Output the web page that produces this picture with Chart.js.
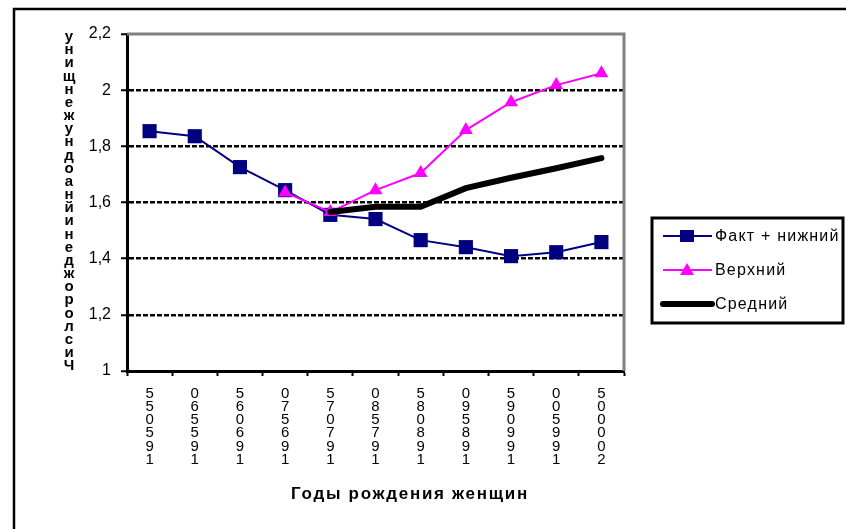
<!DOCTYPE html>
<html><head><meta charset="utf-8">
<script src="https://cdn.jsdelivr.net/npm/chart.js@4/dist/chart.umd.min.js"></script>
<style>html,body{margin:0;padding:0;background:#fff;}canvas{display:block;}</style>
</head><body>
<canvas id="c" width="846" height="529"></canvas>
<script>
const periods = ['1950-55','1955-60','1960-65','1965-70','1970-75','1975-80','1980-85','1985-90','1990-95','1995-00','2000-05'];
const factLower = [1.854,1.836,1.726,1.644,1.556,1.541,1.466,1.441,1.409,1.423,1.459];
const upperVar = [null,null,null,1.636,1.566,1.644,1.705,1.858,1.957,2.018,2.060];
const middleVar = [null,null,null,null,1.566,1.585,1.585,1.651,1.688,1.722,1.758];
const seriesNames = ['Факт + нижний','Верхний','Средний'];
const yTitle = 'Число рождений на одну женщину';
const xTitle = 'Годы рождения женщин';
const FONT = '"Liberation Sans", Arial, sans-serif';

const decor = {
  id:'decor',
  beforeDraw(chart){
    const c = chart.ctx;
    c.save();
    c.fillStyle='#fff'; c.fillRect(0,0,chart.width,chart.height);
    c.strokeStyle='#000'; c.lineWidth=2.5;
    c.beginPath(); c.moveTo(14,chart.height+5); c.lineTo(14,9); c.lineTo(chart.width+5,9); c.stroke();
    c.restore();
  },
  beforeDatasetsDraw(chart){
    const a = chart.chartArea, c = chart.ctx;
    c.save();
    c.strokeStyle='#808080'; c.lineWidth=3;
    c.beginPath(); c.moveTo(a.left,a.top); c.lineTo(a.right,a.top); c.lineTo(a.right,a.bottom); c.stroke();
    c.restore();
  },
  afterDraw(chart){
    const c = chart.ctx;
    c.save();
    c.fillStyle='#000'; c.font='bold 15px '+FONT; c.textAlign='center'; c.textBaseline='middle';
    const chars = yTitle.replace(/ /g,'').split('').reverse();
    chars.forEach((ch,i)=>c.fillText(ch,69,37+i*13.16));
    c.font='bold 17px '+FONT;
    c.letterSpacing='1.7px';
    c.fillText(xTitle,410,494);
    c.letterSpacing='0px';
    c.strokeStyle='#000'; c.lineWidth=3;
    c.strokeRect(652,218,191,105);
    const rows=[236,270,304];
    chart.data.datasets.forEach((ds,i)=>{
      const y=rows[i];
      c.strokeStyle=ds.borderColor; c.lineWidth=Math.min(ds.borderWidth,6);
      c.lineCap = i===2?'round':'butt';
      c.beginPath(); c.moveTo(663,y); c.lineTo(712,y); c.stroke();
      c.fillStyle=ds.backgroundColor;
      if(ds.pointStyle==='rect'){ c.fillRect(680,y-6,14,12); }
      else if(ds.pointStyle==='triangle'){ c.beginPath(); c.moveTo(687,y-7); c.lineTo(694,y+5); c.lineTo(680,y+5); c.closePath(); c.fill(); }
      c.fillStyle='#000'; c.font='16px '+FONT; c.textAlign='left'; c.textBaseline='middle';
      c.letterSpacing='1.2px';
      c.fillText(ds.label,715,y+1);
      c.letterSpacing='0px';
    });
    c.restore();
  }
};

new Chart(document.getElementById('c'),{
  type:'line',
  data:{
    labels:periods,
    datasets:[
      {label:seriesNames[0],data:factLower,borderColor:'#000080',backgroundColor:'#000080',borderWidth:2,pointStyle:'rect',pointRadius:10,pointBorderWidth:0,order:3},
      {label:seriesNames[1],data:upperVar,borderColor:'#FF00FF',backgroundColor:'#FF00FF',borderWidth:2,pointStyle:'triangle',pointRadius:8,pointBorderWidth:0,order:2},
      {label:seriesNames[2],data:middleVar,borderColor:'#000',backgroundColor:'#000',borderWidth:6,pointRadius:0,borderCapStyle:'round',order:1}
    ]
  },
  options:{
    responsive:false, animation:false, devicePixelRatio:1,
    layout:{padding:{left:0,top:34,right:222,bottom:0}},
    plugins:{legend:{display:false},tooltip:{enabled:false}},
    scales:{
      x:{
        offset:true,
        grid:{offset:true,drawOnChartArea:false,tickLength:5,tickWidth:2,tickColor:'#000'},
        border:{color:'#000',width:3},
        ticks:{autoSkip:false,maxRotation:0,minRotation:0,padding:11,color:'#000',
          font:{family:FONT,size:15,lineHeight:0.88},
          callback:(v,i)=>periods[i].replace('-','').split('').reverse()},
        afterFit(s){s.height=158;}
      },
      y:{
        min:1,max:2.2,
        grid:{color:ctx=>(ctx.tick && ctx.tick.value>1.01 && ctx.tick.value<2.19)?'#000':'rgba(0,0,0,0)',lineWidth:2.5,tickColor:'#000',tickLength:6,tickWidth:2},
        border:{color:'#000',width:3,dash:[5,2]},
        ticks:{stepSize:0.2,padding:10,color:'#000',font:{family:FONT,size:16},
          callback:v=>String(Math.round(v*10)/10).replace('.',',')},
        afterFit(s){s.width=127;}
      }
    }
  },
  plugins:[decor]
});
</script>
</body></html>
